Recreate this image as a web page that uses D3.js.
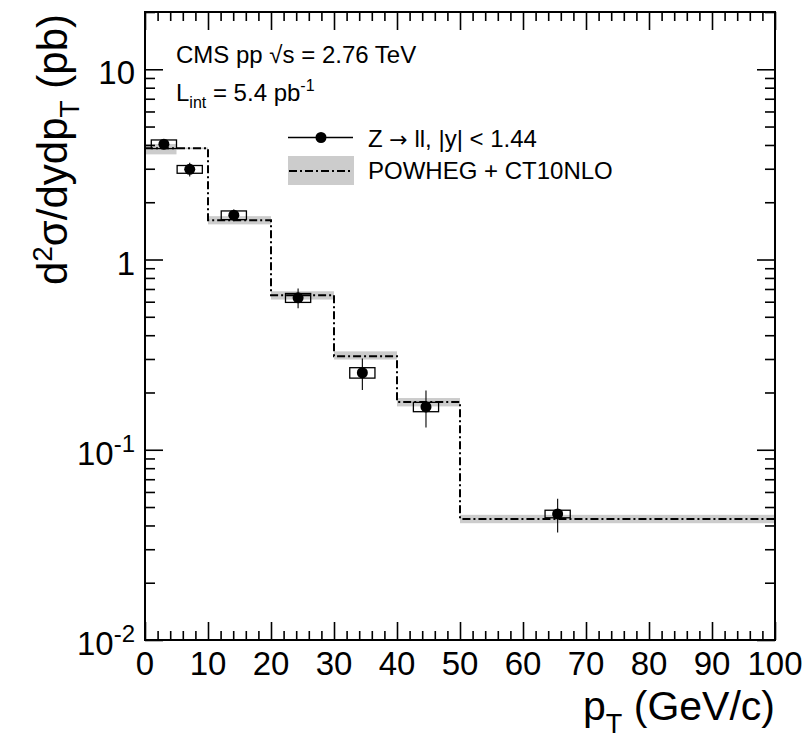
<!DOCTYPE html>
<html>
<head>
<meta charset="utf-8">
<script src="https://cdn.jsdelivr.net/npm/d3@7"></script>
<style>
  body { margin: 0; background: #fff; }
  svg { display: block; }
  text { font-family: "Liberation Sans", Arial, Helvetica, sans-serif; fill: #000; }
</style>
</head>
<body>
<svg id="chart" width="811" height="741"></svg>
<script>
// Measured Z boson differential cross section, |y| < 1.44
const ptMean  = [3.0, 7.1, 14.1, 24.3, 34.5, 44.6, 65.5];
const xsec    = [4.04, 2.98, 1.71, 0.629, 0.254, 0.168, 0.046];
const statErr = [0.17, 0.25, 0.12, 0.075, 0.048, 0.037, 0.0093];
const systErr = [0.21, 0.14, 0.09, 0.034, 0.016, 0.0095, 0.0021];
const systHalfWidth = 2; // GeV/c, half width of the systematic boxes

// POWHEG + CT10NLO prediction, per pT bin
const binLow   = [0, 5, 10, 20, 30, 40, 50];
const binHigh  = [5, 10, 20, 30, 40, 50, 100];
const theory   = [3.84, 3.84, 1.61, 0.649, 0.310, 0.178, 0.0433];
const theoryLo = [3.57, 3.80, 1.53, 0.616, 0.298, 0.169, 0.0411];
const theoryHi = [4.05, 3.88, 1.69, 0.681, 0.329, 0.187, 0.0455];

// Axis ticks
const xMajor = [0, 10, 20, 30, 40, 50, 60, 70, 80, 90, 100];
const xLabels = ["0", "10", "20", "30", "40", "50", "60", "70", "80", "90", "100"];
const yMajor = [0.01, 0.1, 1, 10];
const yLabelBase = ["10", "10", "1", "10"];
const yLabelExp  = ["-2", "-1", "", ""];

const plot = { left: 145, right: 775, top: 12, bottom: 640 };

const svg = d3.select("#chart");
const x = d3.scaleLinear().domain([0, 100]).range([plot.left, plot.right]);
const y = d3.scaleLog().domain([0.01, 20]).range([plot.bottom, plot.top]);

const xMinor = d3.range(0, 101, 2).filter(v => v % 10 !== 0);
const yMinor = [];
[0.01, 0.1, 1, 10].forEach(d => {
  for (let k = 2; k <= 9; k++) { const v = k * d; if (v <= 20) yMinor.push(v); }
});

const DASHDOT = "8,3,2,3";

// Theory uncertainty band
const bands = svg.append("g");
binLow.forEach((lo, i) => {
  bands.append("rect")
    .attr("x", x(lo)).attr("width", x(binHigh[i]) - x(lo))
    .attr("y", y(theoryHi[i])).attr("height", y(theoryLo[i]) - y(theoryHi[i]))
    .attr("fill", "#cccccc");
});

// Theory central value as a step line
const stepPts = [];
binLow.forEach((lo, i) => {
  stepPts.push([x(lo), y(theory[i])]);
  stepPts.push([x(binHigh[i]), y(theory[i])]);
});
svg.append("path")
  .attr("d", d3.line()(stepPts))
  .attr("fill", "none").attr("stroke", "#000")
  .attr("stroke-width", 2).attr("stroke-dasharray", DASHDOT);

// Systematic boxes
const data = svg.append("g");
ptMean.forEach((pt, i) => {
  data.append("rect")
    .attr("x", x(pt - systHalfWidth)).attr("width", x(pt + systHalfWidth) - x(pt - systHalfWidth))
    .attr("y", y(xsec[i] + systErr[i]))
    .attr("height", y(xsec[i] - systErr[i]) - y(xsec[i] + systErr[i]))
    .attr("fill", "none").attr("stroke", "#000").attr("stroke-width", 1.3);
});
// Statistical error bars and points
ptMean.forEach((pt, i) => {
  data.append("line")
    .attr("x1", x(pt)).attr("x2", x(pt))
    .attr("y1", y(xsec[i] + statErr[i])).attr("y2", y(xsec[i] - statErr[i]))
    .attr("stroke", "#000").attr("stroke-width", 1.1);
  data.append("circle")
    .attr("cx", x(pt)).attr("cy", y(xsec[i])).attr("r", 5.5).attr("fill", "#000");
});

// Axes (ticks pointing into the frame)
function styleAxis(g) {
  g.select(".domain").remove();
  g.selectAll("line").attr("stroke", "#000").attr("stroke-width", 1.6);
  g.selectAll("text").remove();
}
const B = `translate(0,${plot.bottom})`, T = `translate(0,${plot.top})`;
svg.append("g").attr("transform", B).call(d3.axisBottom(x).tickValues(xMajor).tickSizeInner(-18).tickSizeOuter(0)).call(styleAxis);
svg.append("g").attr("transform", B).call(d3.axisBottom(x).tickValues(xMinor).tickSizeInner(-9).tickSizeOuter(0)).call(styleAxis);
svg.append("g").attr("transform", T).call(d3.axisTop(x).tickValues(xMajor).tickSizeInner(-18).tickSizeOuter(0)).call(styleAxis);
svg.append("g").attr("transform", T).call(d3.axisTop(x).tickValues(xMinor).tickSizeInner(-9).tickSizeOuter(0)).call(styleAxis);
const L = `translate(${plot.left},0)`, R = `translate(${plot.right},0)`;
svg.append("g").attr("transform", L).call(d3.axisLeft(y).tickValues(yMajor).tickSizeInner(-18).tickSizeOuter(0)).call(styleAxis);
svg.append("g").attr("transform", L).call(d3.axisLeft(y).tickValues(yMinor).tickSizeInner(-10).tickSizeOuter(0)).call(styleAxis);
svg.append("g").attr("transform", R).call(d3.axisRight(y).tickValues(yMajor).tickSizeInner(-18).tickSizeOuter(0)).call(styleAxis);
svg.append("g").attr("transform", R).call(d3.axisRight(y).tickValues(yMinor).tickSizeInner(-10).tickSizeOuter(0)).call(styleAxis);

// Frame
svg.append("rect")
  .attr("x", plot.left).attr("y", plot.top)
  .attr("width", plot.right - plot.left).attr("height", plot.bottom - plot.top)
  .attr("fill", "none").attr("stroke", "#000").attr("stroke-width", 2);

// Tick labels
const TICK_FS = 33;
xMajor.forEach((v, i) => {
  svg.append("text").attr("x", x(v)).attr("y", plot.bottom + 35)
    .attr("text-anchor", "middle").attr("font-size", TICK_FS).text(xLabels[i]);
});
yMajor.forEach((v, i) => {
  const t = svg.append("text").attr("x", plot.left - 10).attr("y", y(v) + 15)
    .attr("text-anchor", "end").attr("font-size", TICK_FS);
  t.append("tspan").text(yLabelBase[i]);
  if (yLabelExp[i]) {
    t.append("tspan").attr("dy", -13).attr("font-size", 24).text(yLabelExp[i]);
  }
});

// Axis titles
const xt = svg.append("text").attr("x", plot.right).attr("y", 720)
  .attr("text-anchor", "end").attr("font-size", 41);
xt.append("tspan").text("p");
xt.append("tspan").attr("dy", 13).attr("font-size", 27).text("T");
xt.append("tspan").attr("dy", -13).text(" (GeV/c)");

const yt = svg.append("text").attr("transform", `translate(67,${plot.top + 2}) rotate(-90)`)
  .attr("text-anchor", "end").attr("font-size", 42);
yt.append("tspan").text("d");
yt.append("tspan").attr("dy", -15).attr("font-size", 28).text("2");
yt.append("tspan").attr("dy", 15).text("σ/dydp");
yt.append("tspan").attr("dy", 12).attr("font-size", 28).text("T");
yt.append("tspan").attr("dy", -12).text(" (pb)");

// Annotations
const AFS = 24;
svg.append("text").attr("x", 176).attr("y", 63).attr("font-size", AFS)
  .text("CMS pp √s = 2.76 TeV");
const lumi = svg.append("text").attr("x", 176).attr("y", 101).attr("font-size", AFS);
lumi.append("tspan").text("L");
lumi.append("tspan").attr("dy", 7).attr("font-size", 16).text("int");
lumi.append("tspan").attr("dy", -7).text(" = 5.4 pb");
lumi.append("tspan").attr("dy", -10).attr("font-size", 16).text("-1");

// Legend
const lg = svg.append("g");
lg.append("line").attr("x1", 288).attr("x2", 353).attr("y1", 137.5).attr("y2", 137.5)
  .attr("stroke", "#000").attr("stroke-width", 1.3);
lg.append("circle").attr("cx", 321).attr("cy", 137.5).attr("r", 5.5).attr("fill", "#000");
const lt = lg.append("text").attr("x", 368).attr("y", 146.5).attr("font-size", AFS);
lt.append("tspan").text("Z ");
lt.append("tspan").attr("font-family", "DejaVu Sans").attr("font-size", 22).text("→");
lt.append("tspan").text(" ll, |y| < 1.44");
lg.append("rect").attr("x", 288).attr("y", 156).attr("width", 66).attr("height", 29).attr("fill", "#cccccc");
lg.append("line").attr("x1", 289).attr("x2", 353).attr("y1", 171).attr("y2", 171)
  .attr("stroke", "#000").attr("stroke-width", 2).attr("stroke-dasharray", DASHDOT);
lg.append("text").attr("x", 368).attr("y", 178.5).attr("font-size", AFS).text("POWHEG + CT10NLO");
</script>
</body>
</html>
